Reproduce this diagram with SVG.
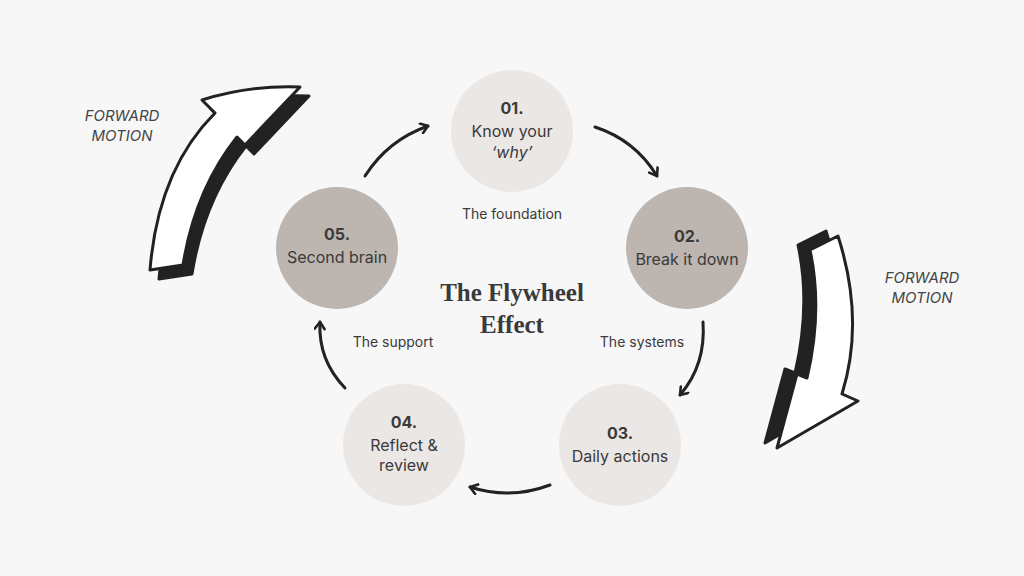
<svg xmlns="http://www.w3.org/2000/svg" width="1024" height="576" viewBox="0 0 1024 576">
<style>
.n{font-family:Inter,"Noto Sans",sans-serif;font-size:16px;fill:#3a3a3a;text-anchor:middle}
.b{font-weight:bold}
.l{font-family:Inter,"Noto Sans",sans-serif;font-size:14px;fill:#3a3a3a;text-anchor:middle}
.f{font-family:Inter,"Noto Sans",sans-serif;font-size:15px;font-style:italic;fill:#444;text-anchor:middle}
.t{font-family:"Liberation Serif",serif;font-size:25px;font-weight:bold;fill:#3a3a3a;text-anchor:middle}
.c{fill:none;stroke:#222;stroke-width:3;stroke-linecap:round}
.lt{fill:#ebe7e4}.dk{fill:#bcb5b0}
</style>
<defs>
<marker id="a" viewBox="0 0 12 12" refX="9" refY="6" markerWidth="12" markerHeight="12" markerUnits="userSpaceOnUse" orient="auto">
<path d="M2,1 L9,6 L2,11" fill="none" stroke="#222" stroke-width="2.6" stroke-linecap="round" stroke-linejoin="round"/>
</marker>
</defs>
<rect width="1024" height="576" fill="#f7f7f7"/>
<g id="bigArrowLeft">
<path transform="translate(9,9)" d="M150,270 Q158,170 215,113 L202,100 Q250,85 300,87 L245,145 L237,137 Q195,190 183,265 Z" fill="#222" stroke="#222" stroke-width="3" stroke-linejoin="round"/>
<path d="M150,270 Q158,170 215,113 L202,100 Q250,85 300,87 L245,145 L237,137 Q195,190 183,265 Z" fill="#fff" stroke="#222" stroke-width="3" stroke-linejoin="round"/>
<text class="f" x="122" y="121">FORWARD</text><text class="f" x="122" y="141">MOTION</text>
</g>
<g id="bigArrowRight">
<path transform="translate(-12,-5)" d="M810,250 L838,236 Q865,320 842,394 L858,401 L777,448 L797,374 L807,378 Q823,310 810,250 Z" fill="#222" stroke="#222" stroke-width="3" stroke-linejoin="round"/>
<path d="M810,250 L838,236 Q865,320 842,394 L858,401 L777,448 L797,374 L807,378 Q823,310 810,250 Z" fill="#fff" stroke="#222" stroke-width="3" stroke-linejoin="round"/>
<text class="f" x="922" y="283">FORWARD</text><text class="f" x="922" y="303">MOTION</text>
</g>
<g id="connectors">
<path class="c" d="M595,127 Q635,140 657,176" marker-end="url(#a)"/>
<path class="c" d="M703,322 Q706,365 680,395" marker-end="url(#a)"/>
<path class="c" d="M550,485 Q510,500 470,487" marker-end="url(#a)"/>
<path class="c" d="M345,388 Q318,360 320,322" marker-end="url(#a)"/>
<path class="c" d="M365,176 Q388,140 428,126" marker-end="url(#a)"/>
</g>
<g id="n1"><circle class="lt" cx="512" cy="131" r="61"/>
<text class="n b" x="512" y="114">01.</text><text class="n" x="512" y="137">Know your</text><text class="n" x="512" y="158" font-style="italic">‘why’</text></g>
<g id="n2"><circle class="dk" cx="687" cy="248" r="61"/>
<text class="n b" x="687" y="242">02.</text><text class="n" x="687" y="265">Break it down</text></g>
<g id="n3"><circle class="lt" cx="620" cy="445" r="61"/>
<text class="n b" x="620" y="439">03.</text><text class="n" x="620" y="462">Daily actions</text></g>
<g id="n4"><circle class="lt" cx="404" cy="445" r="61"/>
<text class="n b" x="404" y="428">04.</text><text class="n" x="404" y="451">Reflect &amp;</text><text class="n" x="404" y="471">review</text></g>
<g id="n5"><circle class="dk" cx="337" cy="248" r="61"/>
<text class="n b" x="337" y="240">05.</text><text class="n" x="337" y="263">Second brain</text></g>
<g id="labels">
<text class="l" x="512" y="219">The foundation</text>
<text class="l" x="642" y="347">The systems</text>
<text class="l" x="393" y="347">The support</text>
<text class="t" x="512" y="301">The Flywheel</text>
<text class="t" x="512" y="333">Effect</text>
</g>
</svg>
